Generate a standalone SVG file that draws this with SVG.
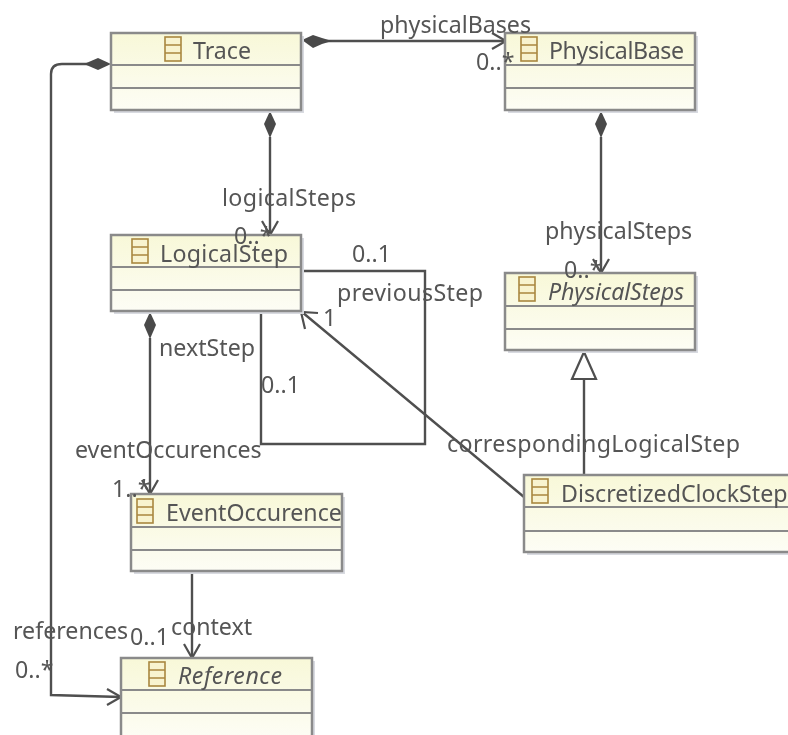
<svg xmlns="http://www.w3.org/2000/svg" width="788" height="735" viewBox="0 0 788 735">
<style>
text{font-family:"Noto Sans","DejaVu Sans",sans-serif;font-size:23.2px;fill:#555}
.i{font-style:italic}
.box{fill:url(#g);stroke:#8a8a8a;stroke-width:2.5}
.sep{stroke:#8a8a8a;stroke-width:2;fill:none}
.sh{fill:#d8dae0}
.ic{fill:#f8f3cf;stroke:#a9873f;stroke-width:1.6}
.c{fill:none;stroke:#4f4f4f;stroke-width:2.4}
.d{fill:#4a4a4a}
.o{fill:none;stroke:#4f4f4f;stroke-width:2.2}
</style>
<defs>
<linearGradient id="g" x1="0" y1="0" x2="0" y2="1"><stop offset="0" stop-color="#f8f8d8"/><stop offset="1" stop-color="#fdfdf5"/></linearGradient>
<g id="icon"><rect class="ic" x="0" y="0" width="16" height="24"/><path class="ic" d="M0 8H16M0 16H16"/></g>
<filter id="soft" x="0" y="0" width="100%" height="100%"><feGaussianBlur stdDeviation="0.55"/></filter>
</defs>
<rect width="788" height="735" fill="#fff"/>
<g filter="url(#soft)">
<g id="connectors">
<path class="c" d="M325 41H505"/><path class="o" d="M492 33L506 41L492 49"/>
<path class="d" d="M302 40L313 35L322 38L332 41L322 44L313 48Z"/>
<path class="c" d="M270 137V235"/><path class="o" d="M262 221L270 235L278 221"/>
<path class="d" d="M270 111L276 124L270 138L264 124Z"/>
<path class="c" d="M601 137V273"/><path class="o" d="M593 259L601 273L609 259"/>
<path class="d" d="M601 111L607 124L601 138L595 124Z"/>
<path class="c" d="M150 338V494"/><path class="o" d="M142 480L150 494L158 480"/>
<path class="d" d="M150 312L156 325L150 339L144 325Z"/>
<path class="c" d="M192 571V658"/><path class="o" d="M184 644L192 658L200 644"/>
<path class="c" d="M88 64H62Q51 64 51 74V695L121 697"/><path class="o" d="M107 689L121 697L107 705"/>
<path class="d" d="M111 64L98 58L84 64L98 70Z"/>
<path class="c" d="M301 271H425V444H261V311"/>
<path class="c" d="M524 497L302 312"/><path class="o" d="M305 329L301 312L318 313"/>
<path class="c" d="M584 475V378"/><path d="M584 352L596 379H572Z" fill="#fff" stroke="#4f4f4f" stroke-width="2.2"/>
</g>
<g id="trace"><rect class="sh" x="114" y="36" width="190" height="77"/><rect class="box" x="111" y="33" width="190" height="77"/><path class="sep" d="M111 65H301M111 88H301"/><use href="#icon" x="165" y="37"/><text x="193" y="59">Trace</text></g>
<g id="physicalbase"><rect class="sh" x="508" y="36" width="190" height="77"/><rect class="box" x="505" y="33" width="190" height="77"/><path class="sep" d="M505 65H695M505 88H695"/><use href="#icon" x="521" y="37"/><text x="549" y="59" textLength="135">PhysicalBase</text></g>
<g id="logicalstep"><rect class="sh" x="114" y="238" width="190" height="76"/><rect class="box" x="111" y="235" width="190" height="76"/><path class="sep" d="M111 267H301M111 290H301"/><use href="#icon" x="132" y="239"/><text x="160" y="262" textLength="128">LogicalStep</text></g>
<g id="physicalsteps"><rect class="sh" x="508" y="276" width="190" height="77"/><rect class="box" x="505" y="273" width="190" height="77"/><path class="sep" d="M505 306H695M505 329H695"/><use href="#icon" x="519" y="277"/><text class="i" x="548" y="300" textLength="136">PhysicalSteps</text></g>
<g id="discretizedclockstep"><rect class="sh" x="527" y="478" width="270" height="77"/><rect class="box" x="524" y="475" width="270" height="77"/><path class="sep" d="M524 507H794M524 531H794"/><use href="#icon" x="532" y="479"/><text x="561" y="502">DiscretizedClockStep</text></g>
<g id="eventoccurence"><rect class="sh" x="134" y="497" width="211" height="77"/><rect class="box" x="131" y="494" width="211" height="77"/><path class="sep" d="M131 527H342M131 550H342"/><use href="#icon" x="137" y="499"/><text x="166" y="521">EventOccurence</text></g>
<g id="reference"><rect class="sh" x="124" y="661" width="191" height="80"/><rect class="box" x="121" y="658" width="191" height="80"/><path class="sep" d="M121 690H312M121 713H312"/><use href="#icon" x="149" y="662"/><text class="i" x="178" y="684" textLength="104">Reference</text></g>
<g id="labels">
<text x="380" y="33">physicalBases</text>
<text x="476" y="70">0..*</text>
<text x="222" y="206" textLength="134">logicalSteps</text>
<text x="234" y="244">0..*</text>
<text x="545" y="239">physicalSteps</text>
<text x="564" y="278">0..*</text>
<text x="352" y="262">0..1</text>
<text x="337" y="301" textLength="146">previousStep</text>
<text x="323" y="326">1</text>
<text x="159" y="356">nextStep</text>
<text x="261" y="393">0..1</text>
<text x="75" y="458">eventOccurences</text>
<text x="112" y="497">1..*</text>
<text x="447" y="452" textLength="293">correspondingLogicalStep</text>
<text x="13" y="639">references</text>
<text x="130" y="645">0..1</text>
<text x="171" y="635">context</text>
<text x="15" y="678">0..*</text>
</g>
</g>
</svg>
